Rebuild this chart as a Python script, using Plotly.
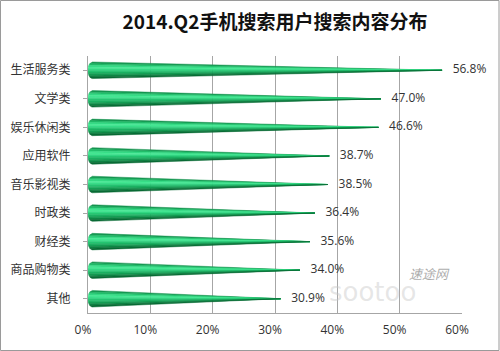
import numpy as np
import plotly.graph_objects as go

categories = ["生活服务类", "文学类", "娱乐休闲类", "应用软件", "音乐影视类", "时政类", "财经类", "商品购物类", "其他"]
values = [56.8, 47.0, 46.6, 38.7, 38.5, 36.4, 35.6, 34.0, 30.9]
tick_vals = [0, 10, 20, 30, 40, 50, 60]
tick_text = ["0%", "10%", "20%", "30%", "40%", "50%", "60%"]
title = "2014.Q2手机搜索用户搜索内容分布"

W, H = 500, 351
L, R, T, B = 88, 38, 56, 38
half = 0.29      # half thickness of cone base (category units)
rx = 0.7         # base ellipse depth (percent units)

band_edges = np.linspace(-1, 1, 11)
band_colors = ["#15934f", "#1fb866", "#33d883", "#46e894", "#38dc88",
               "#27c774", "#1db465", "#16a056", "#0f8645", "#096a34"]

fig = go.Figure()
for bi, col in enumerate(band_colors):
    s0, s1 = band_edges[bi], band_edges[bi + 1]
    xs, ys = [], []
    for i, v in enumerate(values):
        ss = np.linspace(s0, s1, 4)
        bx = [rx * (1 - np.sqrt(max(0.0, 1 - s * s))) for s in ss]
        by = [i + s * half for s in ss]
        xs += bx + [v, bx[0], None]
        ys += by + [i, by[0], None]
    fig.add_trace(go.Scatter(x=xs, y=ys, mode="lines", fill="toself",
                             fillcolor=col, line=dict(width=0.5, color=col),
                             hoverinfo="skip", showlegend=False))

fig.add_trace(go.Scatter(
    x=[v + 1.7 for v in values], y=list(range(len(values))),
    mode="text", text=[f"{v:.1f}%" for v in values],
    textposition="middle right", cliponaxis=False,
    textfont=dict(family="Open Sans, Noto Sans, sans-serif", size=12, color="#333333"),
    hoverinfo="skip", showlegend=False))

pw, ph = W - L - R, H - T - B

fig.update_layout(
    width=W, height=H,
    margin=dict(l=L, r=R, t=T, b=B),
    paper_bgcolor="white", plot_bgcolor="white",
    title=dict(text=f"<b>{title}</b>", x=0.5, xref="paper", xanchor="center",
               y=1 - 22 / H, yanchor="middle",
               font=dict(family="Noto Sans CJK SC, sans-serif", size=19, color="#111111")),
    xaxis=dict(range=[0, 60], tickvals=tick_vals, ticktext=tick_text,
               showgrid=True, gridcolor="#a6a6a6", gridwidth=1,
               showline=True, linecolor="#a6a6a6", linewidth=1,
               zeroline=False, ticks="", ticklabelshift=-5, ticklabelstandoff=6,
               tickfont=dict(family="Open Sans, Noto Sans, sans-serif", size=12, color="#333333"),
               fixedrange=True),
    yaxis=dict(range=[len(values) - 0.5, -0.5], tickvals=list(range(len(categories))),
               ticktext=categories, showgrid=False, zeroline=False,
               showline=True, linecolor="#a6a6a6", linewidth=1,
               ticks="outside", ticklen=4, tickcolor="#a6a6a6", ticklabelstandoff=10,
               tickfont=dict(family="Noto Sans CJK SC, sans-serif", size=12, color="#333333"),
               fixedrange=True),
)

# whole-image border
fig.add_shape(type="rect", xref="paper", yref="paper",
              x0=-L / pw + 0.5 / pw, x1=1 + R / pw - 1 / pw,
              y0=-B / ph + 0.5 / ph, y1=1 + T / ph - 0.5 / ph,
              line=dict(color="#9a9a9a", width=1), fillcolor="rgba(0,0,0,0)", layer="above")

# watermark
fig.add_annotation(xref="paper", yref="paper",
                   x=(452 - L) / pw, y=1 - (285 - T) / ph,
                   text="<i>速途网</i>", showarrow=False,
                   font=dict(family="Noto Sans CJK SC", size=13, color="rgba(150,150,150,0.8)"))
fig.add_annotation(xref="paper", yref="paper",
                   x=(418 - L) / pw, y=1 - (309 - T) / ph,
                   text="sootoo", showarrow=False,
                   font=dict(family="DejaVu Sans", size=26, color="rgba(200,200,200,0.45)"))

fig.write_html("out.html")
